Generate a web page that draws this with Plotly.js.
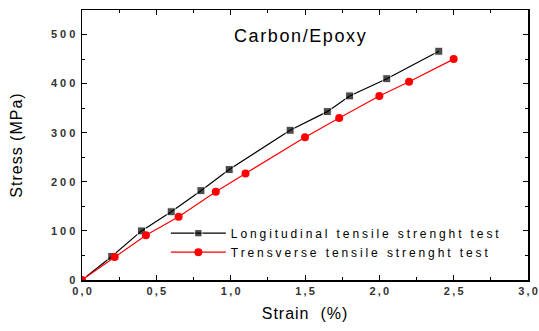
<!DOCTYPE html>
<html><head><meta charset="utf-8">
<script src="https://cdn.plot.ly/plotly-3.0.1.min.js"></script>
<style>
body{margin:0;background:#fff}
.legendtext{letter-spacing:2.9px}
.ytick text{letter-spacing:3px}
.annotation-text{letter-spacing:1.6px}
.xtitle,.ytitle{letter-spacing:1px}
</style>
</head><body>
<div id="chart" style="width:539px;height:331px"></div>
<script>
const longStrain = [0.03, 0.20, 0.40, 0.60, 0.80, 0.99, 1.40, 1.65, 1.80, 2.05, 2.40];
const longStress = [7, 48, 100, 139, 182, 225, 305, 343, 375, 410, 466];
const transStrain = [0.00, 0.22, 0.43, 0.65, 0.90, 1.10, 1.50, 1.73, 2.00, 2.20, 2.50];
const transStress = [0, 47, 91, 129, 180, 217, 291, 330, 375, 404, 450];
const xTickVals = [0, 0.5, 1.0, 1.5, 2.0, 2.5, 3.0];
const xTickText = ['0\u2009,\u20090', '0\u2009,\u20095', '1\u2009,\u20090', '1\u2009,\u20095', '2\u2009,\u20090', '2\u2009,\u20095', '3\u2009,\u20090'];
const yTickVals = [0, 100, 200, 300, 400, 500];
const yTickText = ['0', '100', '200', '300', '400', '500'];

const traces = [
  {x: longStrain, y: longStress, mode: 'lines+markers', name: 'Longitudinal tensile strenght test',
   line: {color: '#000', width: 1.2},
   marker: {symbol: 'square', color: '#000', size: longStrain.map((v, i) => i === 0 ? 0 : 8)}},
  {x: transStrain, y: transStress, mode: 'lines+markers', name: 'Trensverse tensile strenght test',
   line: {color: '#ff0000', width: 1.2},
   marker: {symbol: 'circle', color: '#ff0000', size: 8}}
];

const axisCommon = {
  showline: true, linecolor: '#000', linewidth: 1.5, mirror: 'ticks',
  ticks: 'inside', ticklen: 5, tickwidth: 1, tickcolor: '#000',
  showgrid: false, zeroline: false, ticklabeloverflow: 'allow',
  tickfont: {family: 'Liberation Sans, Arial', size: 11, color: '#333', weight: 'bold'}
};

const layout = {
  width: 539, height: 331,
  margin: {l: 82, r: 11, t: 10, b: 51},
  paper_bgcolor: '#fff', plot_bgcolor: '#fff',
  showlegend: true,
  legend: {x: 0.188, y: 0.227, xanchor: 'left', yanchor: 'top', bgcolor: 'rgba(0,0,0,0)',
           itemwidth: 55, tracegroupgap: 0,
           font: {family: 'Liberation Sans, Arial', size: 12, color: '#000'}},
  xaxis: Object.assign({}, axisCommon, {
    range: [0, 3.0], tickvals: xTickVals, ticktext: xTickText,
    minor: {dtick: 0.25, ticks: 'inside', ticklen: 3, tickcolor: '#000'},
    title: {text: 'Strain  (%)', font: {family: 'Liberation Sans, Arial', size: 16, color: '#000'}, standoff: 12}
  }),
  yaxis: Object.assign({}, axisCommon, {
    range: [0, 550], tickvals: yTickVals, ticktext: yTickText,
    minor: {dtick: 50, ticks: 'inside', ticklen: 3, tickcolor: '#000'},
    title: {text: 'Stress (MPa)', font: {family: 'Liberation Sans, Arial', size: 16, color: '#000'}, standoff: 24}
  }),
  annotations: [{text: 'Carbon/Epoxy', xref: 'paper', yref: 'paper', x: 0.49, y: 0.905,
    xanchor: 'center', yanchor: 'middle', showarrow: false,
    font: {family: 'Liberation Sans, Arial', size: 18, color: '#000'}}]
};

Plotly.newPlot('chart', traces, layout, {displayModeBar: false, staticPlot: true});
</script>
</body></html>
